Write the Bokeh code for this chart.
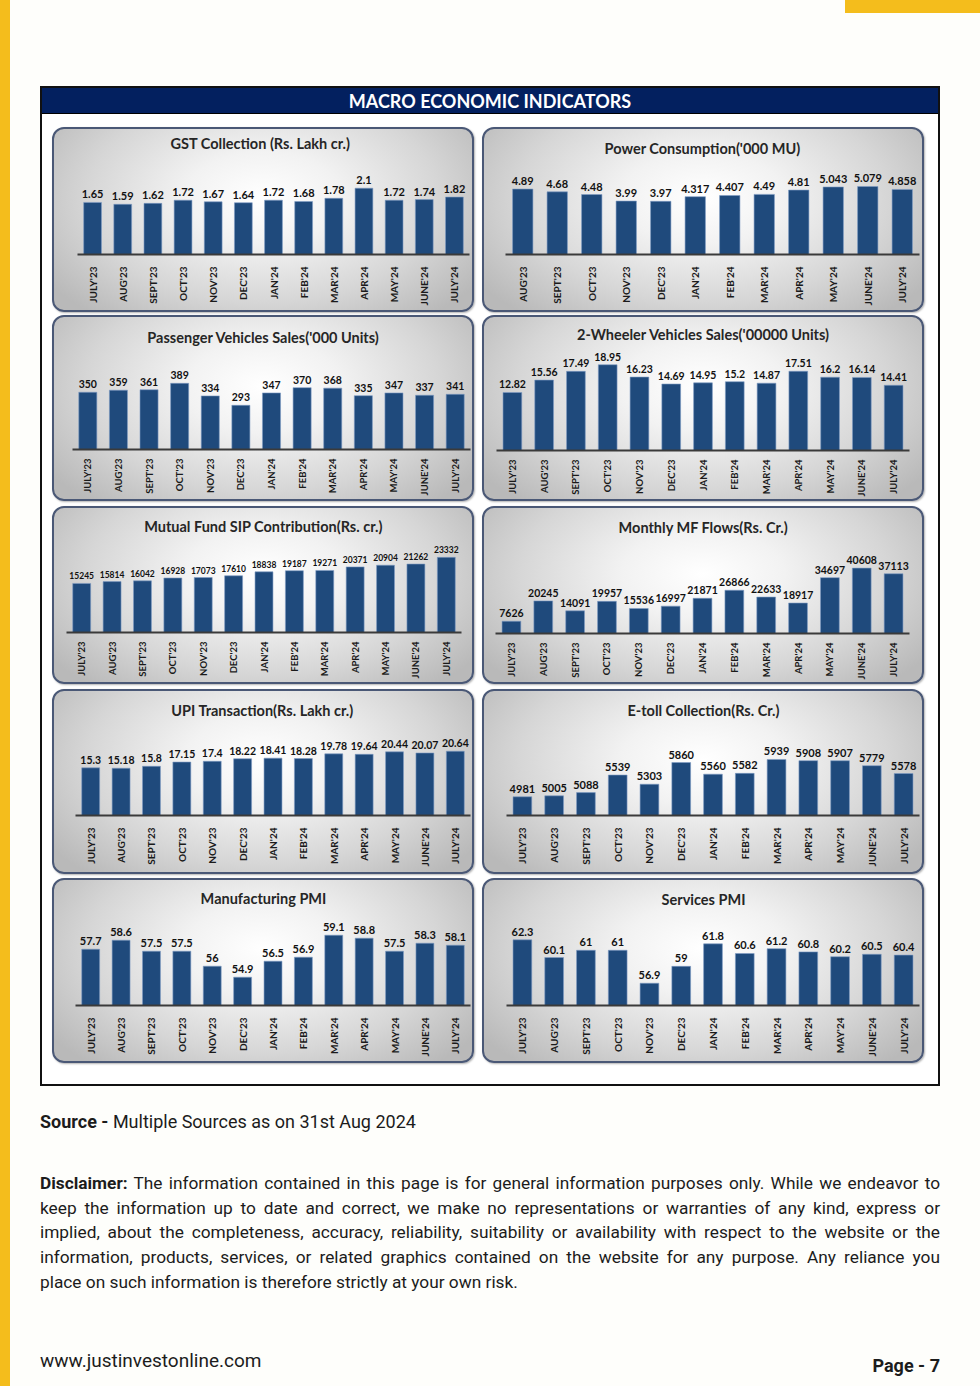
import math
from bokeh.plotting import figure
from bokeh.models import ColumnDataSource, Label, Div, Spacer, Range1d, FactorRange
from bokeh.layouts import column, row
from bokeh.embed import file_html
from bokeh.resources import INLINE
from bokeh.core.properties import value

# ---------------- data ----------------
months13 = ["JULY'23", "AUG'23", "SEPT'23", "OCT'23", "NOV'23", "DEC'23", "JAN'24",
            "FEB'24", "MAR'24", "APR'24", "MAY'24", "JUNE'24", "JULY'24"]
months12 = ["AUG'23", "SEPT'23", "OCT'23", "NOV'23", "DEC'23", "JAN'24",
            "FEB'24", "MAR'24", "APR'24", "MAY'24", "JUNE'24", "JULY'24"]

gst = [1.65, 1.59, 1.62, 1.72, 1.67, 1.64, 1.72, 1.68, 1.78, 2.1, 1.72, 1.74, 1.82]
power = [4.89, 4.68, 4.48, 3.99, 3.97, 4.317, 4.407, 4.49, 4.81, 5.043, 5.079, 4.858]
pv_sales = [350, 359, 361, 389, 334, 293, 347, 370, 368, 335, 347, 337, 341]
two_wheeler = [12.82, 15.56, 17.49, 18.95, 16.23, 14.69, 14.95, 15.2, 14.87, 17.51, 16.2, 16.14, 14.41]
sip = [15245, 15814, 16042, 16928, 17073, 17610, 18838, 19187, 19271, 20371, 20904, 21262, 23332]
mf_flows = [7626, 20245, 14091, 19957, 15536, 16997, 21871, 26866, 22633, 18917, 34697, 40608, 37113]
upi = [15.3, 15.18, 15.8, 17.15, 17.4, 18.22, 18.41, 18.28, 19.78, 19.64, 20.44, 20.07, 20.64]
etoll = [4981, 5005, 5088, 5539, 5303, 5860, 5560, 5582, 5939, 5908, 5907, 5779, 5578]
mfg_pmi = [57.7, 58.6, 57.5, 57.5, 56, 54.9, 56.5, 56.9, 59.1, 58.8, 57.5, 58.3, 58.1]
services_pmi = [62.3, 60.1, 61, 61, 56.9, 59, 61.8, 60.6, 61.2, 60.8, 60.2, 60.5, 60.4]

titles = ["GST Collection (Rs. Lakh cr.)", "Power Consumption('000 MU)",
          "Passenger Vehicles Sales('000 Units)", "2-Wheeler Vehicles Sales('00000 Units)",
          "Mutual Fund SIP Contribution(Rs. cr.)", "Monthly MF Flows(Rs. Cr.)",
          "UPI Transaction(Rs. Lakh cr.)", "E-toll Collection(Rs. Cr.)",
          "Manufacturing PMI", "Services PMI"]

# ---------------- style ----------------
FONT = "Lato"
BAR = "#1F4A7C"
PANEL_STYLE = {
    "border": "2px solid #4a5876",
    "border-radius": "12px",
    "background": "radial-gradient(ellipse 62% 85% at 50% 38%, #ffffff 0%, #f2f2f2 30%, #d6d6d6 68%, #b9b9b9 100%)",
    "overflow": "hidden",
    "box-shadow": "1px 1px 2px rgba(0,0,0,0.3)",
}


def panel(title, cats, vals, w, h, mbl, mbr, mbb, y0, y1, tx, ty, vfs="10.5px",
          tfs="10px", stand=6):
    src = ColumnDataSource(dict(x=cats, top=vals, lab=[str(v) for v in vals]))
    p = figure(x_range=FactorRange(*cats), y_range=Range1d(y0, y1), width=w, height=h,
               output_backend="svg", toolbar_location=None, y_axis_location=None,
               min_border_left=mbl, min_border_right=mbr, min_border_top=0,
               min_border_bottom=mbb, background_fill_color=None, border_fill_color=None,
               outline_line_color=None)
    p.vbar(x="x", top="top", bottom=y0, width=0.59, source=src,
           fill_color=BAR, line_color="#7f9cc4", line_width=0.6)
    p.text(x="x", y="top", text="lab", source=src, text_align="center",
           text_baseline="bottom", y_offset=-4, text_font=value(FONT),
           text_font_style="bold", text_font_size=vfs, text_color="#111111")
    p.xgrid.visible = False
    p.ygrid.visible = False
    ax = p.xaxis[0]
    ax.major_label_orientation = math.pi / 2
    ax.major_label_text_font = FONT
    ax.major_label_text_font_style = "bold"
    ax.major_label_text_font_size = tfs
    ax.major_label_text_color = "#1a1a1a"
    ax.major_label_standoff = stand
    ax.axis_line_color = "#3a3a3a"
    ax.axis_line_width = 2
    ax.major_tick_line_color = None
    ax.minor_tick_line_color = None
    p.add_layout(Label(x=tx, y=ty, x_units="screen", y_units="screen", text=title,
                       text_align="center", text_baseline="middle", text_font=FONT,
                       text_font_style="bold", text_font_size="14.5px", text_color="#262626"))
    return column(p, styles=PANEL_STYLE)


LW, RW = 418, 438
p1 = panel(titles[0], months13, gst, LW, 181, 23, 3, 56, 0, 3.96, 183, 111, "11px")
p2 = panel(titles[1], months12, power, RW, 181, 21, 3, 56, 0, 9.335, 197, 106, "11px")
p3 = panel(titles[2], months13, pv_sales, LW, 182, 18, 2, 50, 100, 676.4, 191, 112,
           tfs="9.5px", stand=3)
p4 = panel(titles[3], months13, two_wheeler, RW, 182, 12, 13, 48, 0, 29.39, 207, 116,
           tfs="9.5px", stand=3)
p5 = panel(titles[4], months13, sip, LW, 174, 12, 11, 50, 0, 38509, 197, 106, "8.5px",
           tfs="9.5px", stand=3)
p6 = panel(titles[5], months13, mf_flows, RW, 174, 11, 13, 49, 0, 77640, 208, 106,
           tfs="9.5px", stand=3)
p7 = panel(titles[6], months13, upi, LW, 181, 21, 2, 57, 0, 39.8, 187, 105)
p8 = panel(titles[7], months13, etoll, RW, 181, 22, 3, 57, 4500, 7684, 197, 105, "11px")
p9 = panel(titles[8], months13, mfg_pmi, LW, 181, 21, 2, 56, 52.07, 64.57, 188, 107, "11px")
p10 = panel(titles[9], months13, services_pmi, RW, 181, 22, 3, 56, 54.13, 69.68, 197, 106, "11px")

def prow(a, b):
    return row(Spacer(width=10), a, Spacer(width=8), b)

header = Div(width=896, height=26, margin=0, text=(
    '<div style="width:896px;height:26px;background:#03205f;border-bottom:1px solid #000;'
    'box-sizing:border-box;color:#ffffff;font-family:Lato;font-weight:bold;font-size:18px;'
    'text-align:center;line-height:26px;">MACRO ECONOMIC INDICATORS</div>'))

frame = column(
    header, Spacer(height=13),
    prow(p1, p2), Spacer(height=3),
    prow(p3, p4), Spacer(height=5),
    prow(p5, p6), Spacer(height=5),
    prow(p7, p8), Spacer(height=4),
    prow(p9, p10), Spacer(height=21),
    styles={"border": "2px solid #111111", "background": "#ffffff"})

top = Div(width=980, height=86, margin=0, text=(
    '<div style="margin-left:845px;width:135px;height:13px;background:#f4bd1c;"></div>'))

line_style = "white-space:nowrap;text-align:justify;text-align-last:justify;"
bottom = Div(width=980, height=300, margin=0, text=(
    '<div style="position:relative;width:980px;height:300px;font-family:Roboto,sans-serif;color:#1c1c1c;">'
    '<div style="position:absolute;left:40px;top:24px;font-size:18px;line-height:24px;white-space:nowrap;">'
    '<b>Source -</b> Multiple Sources as on 31st Aug 2024</div>'
    '<div style="position:absolute;left:40px;top:85px;width:900px;font-size:17.3px;line-height:24.7px;">'
    f'<div style="{line_style}"><b>Disclaimer:</b> The information contained in this page is for general information purposes only. While we endeavor to</div>'
    f'<div style="{line_style}">keep the information up to date and correct, we make no representations or warranties of any kind, express or</div>'
    f'<div style="{line_style}">implied, about the completeness, accuracy, reliability, suitability or availability with respect to the website or the</div>'
    f'<div style="{line_style}">information, products, services, or related graphics contained on the website for any purpose. Any reliance you</div>'
    '<div style="white-space:nowrap;">place on such information is therefore strictly at your own risk.</div>'
    '</div>'
    '<div style="position:absolute;left:40px;top:264px;font-size:19px;line-height:22px;">www.justinvestonline.com</div>'
    '<div style="position:absolute;right:40px;top:269px;font-size:18px;font-weight:bold;line-height:22px;">Page - 7</div>'
    '</div>'))

root = column(top, row(Spacer(width=40), frame), bottom,
              styles={"background": "linear-gradient(to right, #f4bd1c 0px, #f4bd1c 10px, #fefefb 10px)"})

open("out.html", "w").write(file_html(root, INLINE))
